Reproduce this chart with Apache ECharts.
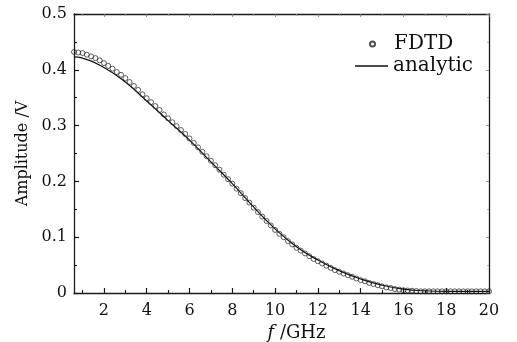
<!DOCTYPE html>
<html><head><meta charset="utf-8">
<script src="https://cdn.jsdelivr.net/npm/echarts@6/dist/echarts.min.js"></script>
<style>html,body{margin:0;padding:0;background:#fff}#c{width:517px;height:342px}</style>
</head><body><div id="c"></div>
<script>
// FDTD samples (GHz, V)
const fdtdFreq = [
  0.6,0.8,
  1.0,1.2,1.4,1.6,1.8,
  2.0,2.2,2.4,2.6,2.8,
  3.0,3.2,3.4,3.6,3.8,
  4.0,4.2,4.4,4.6,4.8,
  5.0,5.2,5.4,5.6,5.8,
  6.0,6.2,6.4,6.6,6.8,
  7.0,7.2,7.4,7.6,7.8,
  8.0,8.2,8.4,8.6,8.8,
  9.0,9.2,9.4,9.6,9.8,
  10.0,10.2,10.4,10.6,10.8,
  11.0,11.2,11.4,11.6,11.8,
  12.0,12.2,12.4,12.6,12.8,
  13.0,13.2,13.4,13.6,13.8,
  14.0,14.2,14.4,14.6,14.8,
  15.0,15.2,15.4,15.6,15.8,
  16.0,16.2,16.4,16.6,16.8,
  17.0,17.2,17.4,17.6,17.8,
  18.0,18.2,18.4,18.6,18.8,
  19.0,19.2,19.4,19.6,19.8,
  20.0
];
const fdtdAmp = [
  0.432,0.431,
  0.430,0.427,0.424,0.421,0.417,
  0.412,0.407,0.402,0.396,0.391,
  0.385,0.378,0.371,0.364,0.356,
  0.349,0.342,0.335,0.328,0.320,
  0.313,0.306,0.299,0.292,0.285,
  0.277,0.269,0.261,0.253,0.245,
  0.237,0.229,0.221,0.212,0.204,
  0.196,0.187,0.179,0.170,0.162,
  0.153,0.145,0.137,0.129,0.121,
  0.113,0.106,0.100,0.093,0.087,
  0.081,0.076,0.071,0.066,0.061,
  0.057,0.053,0.049,0.045,0.041,
  0.038,0.035,0.032,0.029,0.026,
  0.023,0.021,0.018,0.016,0.014,
  0.012,0.010,0.009,0.007,0.006,
  0.005,0.0045,0.004,0.0035,0.003,
  0.003,0.003,0.003,0.003,0.003,
  0.003,0.003,0.003,0.003,0.003,
  0.003,0.003,0.003,0.003,0.003,
  0.003
];
// Analytic curve (GHz, V)
const analyticFreq = [0.6,1,2,3,4,5,6,7,8,9,10,11,12,13,14,15,16,17,18,19,20];
const analyticAmp  = [0.423,0.421,0.404,0.378,0.344,0.309,0.274,0.235,0.196,0.154,0.115,0.083,0.059,0.040,0.025,0.014,0.007,0.004,0.003,0.003,0.003];

const xTickLabels = [2,4,6,8,10,12,14,16,18,20];
const xMinorTicks = [1,3,5,7,9,11,13,15,17,19];
const seriesNames = ['FDTD','analytic'];
const xName = 'f';
const xUnit = ' /GHz';
const yName = 'Amplitude /V';

const FONT = 'DejaVu Serif';
const AX = '#1a1a1a';
const xMin = 0.6, xMax = 20;

const fdtdData = fdtdFreq.map((f,i)=>[f, fdtdAmp[i]]);
const analyticData = analyticFreq.map((f,i)=>[f, analyticAmp[i]]);

function xAx(extra){
  return Object.assign({
    type:'value', min:xMin, max:xMax, gridIndex:0,
    splitLine:{show:false},
    axisLine:{show:false, onZero:false, lineStyle:{color:AX,width:1.3}},
    axisLabel:{show:false},
    axisTick:{show:false}
  }, extra);
}
const legendText = {fontFamily:FONT, fontSize:20, color:'#111'};

const chart = echarts.init(document.getElementById('c'), null, {renderer:'canvas'});
chart.setOption({
  animation:false,
  backgroundColor:'#ffffff',
  grid:{left:74, right:28, top:14, bottom:49, containLabel:false, outerBoundsMode:'none'},
  legend:[
    {left:364, top:29, itemWidth:33, itemHeight:5, itemGap:0,
      textStyle:legendText, data:[{name:seriesNames[0], icon:'circle'}]},
    {left:350, top:51, itemWidth:33, itemHeight:1.3, itemGap:0,
      textStyle:legendText, data:[{name:seriesNames[1], icon:'rect'}]}
  ],
  xAxis:[
    xAx({position:'bottom',
      axisLine:{show:true, onZero:false, lineStyle:{color:AX,width:1.3}},
      axisTick:{show:true, inside:true, length:5, customValues:xTickLabels, lineStyle:{color:AX,width:1.2}},
      axisLabel:{show:true, customValues:xTickLabels, margin:10, fontFamily:FONT, fontSize:16, color:'#111'},
      name:'{i|'+xName+'}'+xUnit, nameLocation:'middle', nameGap:28,
      nameTextStyle:{fontFamily:FONT, fontSize:18, color:'#111', padding:[0,0,0,30],
        rich:{i:{fontFamily:FONT, fontStyle:'italic', fontSize:18, color:'#111'}}}
    }),
    xAx({position:'bottom',
      axisTick:{show:true, inside:true, length:3, customValues:xMinorTicks, lineStyle:{color:AX,width:1.1}}
    }),
    xAx({position:'top',
      axisLine:{show:true, onZero:false, lineStyle:{color:AX,width:1.3}},
      axisTick:{show:true, inside:true, length:3, customValues:xTickLabels, lineStyle:{color:'#777',width:0.8}}
    }),
    xAx({position:'top',
      axisTick:{show:true, inside:true, length:2, customValues:xMinorTicks, lineStyle:{color:'#999',width:0.8}}
    })
  ],
  yAxis:[
    {type:'value', min:0, max:0.5, interval:0.1, position:'left',
      splitLine:{show:false},
      axisLine:{show:true, onZero:false, lineStyle:{color:AX,width:1.3}},
      axisTick:{show:true, inside:true, length:5, lineStyle:{color:AX,width:1.2}},
      minorTick:{show:true, splitNumber:2, length:3, lineStyle:{color:AX,width:1.1}},
      axisLabel:{margin:7, fontFamily:FONT, fontSize:16, color:'#111'},
      name:yName, nameLocation:'middle', nameGap:41,
      nameTextStyle:{fontFamily:FONT, fontSize:16, color:'#111'}
    },
    {type:'value', min:0, max:0.5, interval:0.1, position:'right',
      splitLine:{show:false},
      axisLine:{show:true, onZero:false, lineStyle:{color:AX,width:1.3}},
      axisTick:{show:true, inside:true, length:3, lineStyle:{color:'#777',width:0.8}},
      minorTick:{show:true, splitNumber:2, length:2, lineStyle:{color:'#999',width:0.8}},
      axisLabel:{show:false}
    }
  ],
  series:[
    {name:seriesNames[1], type:'line', xAxisIndex:0, yAxisIndex:0,
      data:analyticData, smooth:true, symbol:'none', showSymbol:false,
      lineStyle:{color:'#111', width:1.2}, itemStyle:{color:'#111'}, z:2},
    {name:seriesNames[0], type:'scatter', xAxisIndex:0, yAxisIndex:0,
      data:fdtdData, symbol:'circle', symbolSize:5,
      itemStyle:{color:'rgba(255,255,255,0)', borderColor:'#222', borderWidth:0.9}, z:3}
  ]
});
</script>
</body></html>
